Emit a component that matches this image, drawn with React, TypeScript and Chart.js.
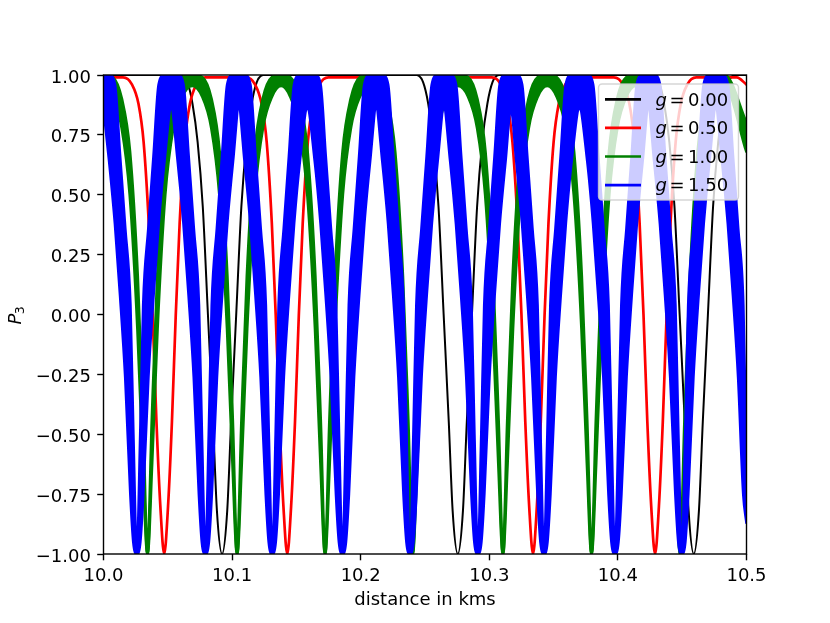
import React, { useEffect, useRef } from 'react';
import { Chart, registerables } from 'chart.js';

Chart.register(...registerables);

// ---------- tick values & labels ----------
const xTickValues = [10.0, 10.1, 10.2, 10.3, 10.4, 10.5];
const xTickLabels = ['10.0', '10.1', '10.2', '10.3', '10.4', '10.5'];
const yTickValues = [-1, -0.75, -0.5, -0.25, 0, 0.25, 0.5, 0.75, 1];
const yTickLabels = ['−1.00', '−0.75', '−0.50', '−0.25', '0.00', '0.25', '0.50', '0.75', '1.00'];
const xTitle = 'distance in kms';
const seriesLabels = ['0.00', '0.50', '1.00', '1.50'];
const seriesColors = ['#000000', '#ff0000', '#008000', '#0000ff'];

// ---------- g = 0.00 (black) ----------
const blackX = [
  10.0, 10.06,
  10.0652, 10.0692, 10.0732, 10.0772, 10.0812, 10.0852, 10.0882, 10.0922, 10.0962, 10.0992, 10.1032, 10.1072, 10.1112, 10.1152, 10.1192, 10.1242,
  10.2435, 10.2485, 10.2525, 10.2565, 10.2605, 10.2645, 10.2685, 10.2715, 10.2755, 10.2795, 10.2825, 10.2865, 10.2905, 10.2945, 10.2985, 10.3025, 10.3075,
  10.427, 10.432, 10.436, 10.44, 10.444, 10.448, 10.452, 10.455, 10.459, 10.463, 10.466, 10.47, 10.474, 10.478, 10.482, 10.486, 10.491,
  10.5,
];
const blackY = [
  1, 1,
  0.97, 0.88, 0.72, 0.45, 0, -0.45, -0.82, -1, -0.82, -0.45, 0, 0.45, 0.72, 0.88, 0.97, 1,
  1, 0.97, 0.88, 0.72, 0.45, 0, -0.45, -0.82, -1, -0.82, -0.45, 0, 0.45, 0.72, 0.88, 0.97, 1,
  1, 0.97, 0.88, 0.72, 0.45, 0, -0.45, -0.82, -1, -0.82, -0.45, 0, 0.45, 0.72, 0.88, 0.97, 1,
  1,
];

// ---------- g = 0.50 (red) ----------
const redX = [
  10.0,
  10.0152, 10.0222, 10.0272, 10.0312, 10.0352, 10.0382, 10.0412, 10.0442, 10.0472, 10.0502, 10.0532, 10.0562, 10.0592, 10.0632, 10.0672, 10.0722, 10.0792,
  10.1109, 10.1179, 10.1229, 10.1269, 10.1309, 10.1339, 10.1369, 10.1399, 10.1429, 10.1459, 10.1489, 10.1519, 10.1549, 10.1589, 10.1629, 10.1679, 10.1749,
  10.2063, 10.2133, 10.2183, 10.2223, 10.2263, 10.2293, 10.2323, 10.2353, 10.2383, 10.2413, 10.2443, 10.2473, 10.2503, 10.2543, 10.2583, 10.2633, 10.2703,
  10.302, 10.309, 10.314, 10.318, 10.322, 10.325, 10.328, 10.331, 10.334, 10.337, 10.34, 10.343, 10.346, 10.35, 10.354, 10.359, 10.366,
  10.3969, 10.4039, 10.4089, 10.4129, 10.4169, 10.4199, 10.4229, 10.4259, 10.4289, 10.4319, 10.4349, 10.4379, 10.4409, 10.4449, 10.4489, 10.4539, 10.4609,
  10.4924, 10.5,
];
const redY = [
  0.99,
  0.99, 0.96, 0.88, 0.72, 0.38, 0, -0.45, -0.8, -1, -0.8, -0.45, 0, 0.38, 0.72, 0.88, 0.96, 0.99,
  0.99, 0.96, 0.88, 0.72, 0.38, 0, -0.45, -0.8, -1, -0.8, -0.45, 0, 0.38, 0.72, 0.88, 0.96, 0.99,
  0.99, 0.96, 0.88, 0.72, 0.38, 0, -0.45, -0.8, -1, -0.8, -0.45, 0, 0.38, 0.72, 0.88, 0.96, 0.99,
  0.99, 0.96, 0.88, 0.72, 0.38, 0, -0.45, -0.8, -1, -0.8, -0.45, 0, 0.38, 0.72, 0.88, 0.96, 0.99,
  0.99, 0.96, 0.88, 0.72, 0.38, 0, -0.45, -0.8, -1, -0.8, -0.45, 0, 0.38, 0.72, 0.88, 0.96, 0.99,
  0.99, 0.96,
];

// ---------- g = 1.00 (green): upper / lower edge of the fast-oscillation band ----------
const greenX = [
  10.0,
  10.0072, 10.0142, 10.0205, 10.0265, 10.0307, 10.0342, 10.0377, 10.0419, 10.0479, 10.0542, 10.0612, 10.069,
  10.0769, 10.0839, 10.0902, 10.0962, 10.1004, 10.1039, 10.1074, 10.1116, 10.1176, 10.1239, 10.1309, 10.1381,
  10.1453, 10.1523, 10.1586, 10.1646, 10.1688, 10.1723, 10.1758, 10.18, 10.186, 10.1923, 10.1993, 10.2064,
  10.2134, 10.2204, 10.2267, 10.2327, 10.2369, 10.2404, 10.2439, 10.2481, 10.2541, 10.2604, 10.2674, 10.2755,
  10.2836, 10.2906, 10.2969, 10.3029, 10.3071, 10.3106, 10.3141, 10.3183, 10.3243, 10.3306, 10.3376, 10.345,
  10.3525, 10.3595, 10.3658, 10.3718, 10.376, 10.3795, 10.383, 10.3872, 10.3932, 10.3995, 10.4065, 10.414,
  10.4214, 10.4284, 10.4347, 10.4407, 10.4449, 10.4484, 10.4519, 10.4561, 10.4621, 10.4684, 10.4754, 10.483,
  10.5,
];
const greenHi = [
  1.0,
  0.99, 0.9, 0.68, 0.16, -0.44, -1, -0.44, 0.16, 0.68, 0.9, 0.99, 1.0,
  0.99, 0.9, 0.68, 0.16, -0.44, -1, -0.44, 0.16, 0.68, 0.9, 0.99, 1.0,
  0.99, 0.9, 0.68, 0.16, -0.44, -1, -0.44, 0.16, 0.68, 0.9, 0.99, 1.0,
  0.99, 0.9, 0.68, 0.16, -0.44, -1, -0.44, 0.16, 0.68, 0.9, 0.99, 1.0,
  0.99, 0.9, 0.68, 0.16, -0.44, -1, -0.44, 0.16, 0.68, 0.9, 0.99, 1.0,
  0.99, 0.9, 0.68, 0.16, -0.44, -1, -0.44, 0.16, 0.68, 0.9, 0.99, 1.0,
  0.99, 0.9, 0.68, 0.16, -0.44, -1, -0.44, 0.16, 0.68, 0.9, 0.99, 1.0,
  0.8,
];
const greenLo = [
  0.955,
  0.91, 0.78, 0.5, -0.06, -0.62, -1, -0.62, -0.06, 0.5, 0.78, 0.91, 0.955,
  0.91, 0.78, 0.5, -0.06, -0.62, -1, -0.62, -0.06, 0.5, 0.78, 0.91, 0.955,
  0.91, 0.78, 0.5, -0.06, -0.62, -1, -0.62, -0.06, 0.5, 0.78, 0.91, 0.955,
  0.91, 0.78, 0.5, -0.06, -0.62, -1, -0.62, -0.06, 0.5, 0.78, 0.91, 0.955,
  0.91, 0.78, 0.5, -0.06, -0.62, -1, -0.62, -0.06, 0.5, 0.78, 0.91, 0.955,
  0.91, 0.78, 0.5, -0.06, -0.62, -1, -0.62, -0.06, 0.5, 0.78, 0.91, 0.955,
  0.91, 0.78, 0.5, -0.06, -0.62, -1, -0.62, -0.06, 0.5, 0.78, 0.91, 0.955,
  0.68,
];

// ---------- g = 1.50 (blue): upper / lower edge of the fast-oscillation band ----------
const blueX = [
  10.0,
  10.0044, 10.0089, 10.0129, 10.0169, 10.0209, 10.0232, 10.0259, 10.0286, 10.0309, 10.0349, 10.0389, 10.0429, 10.0474, 10.0526,
  10.0577, 10.0622, 10.0662, 10.0702, 10.0742, 10.0765, 10.0792, 10.0819, 10.0842, 10.0882, 10.0922, 10.0962, 10.1007, 10.1052,
  10.1097, 10.1142, 10.1182, 10.1222, 10.1262, 10.1285, 10.1312, 10.1339, 10.1362, 10.1402, 10.1442, 10.1482, 10.1527, 10.1585,
  10.1643, 10.1688, 10.1728, 10.1768, 10.1808, 10.1831, 10.1858, 10.1885, 10.1908, 10.1948, 10.1988, 10.2028, 10.2073, 10.212,
  10.2168, 10.2213, 10.2253, 10.2293, 10.2333, 10.2356, 10.2383, 10.241, 10.2433, 10.2473, 10.2513, 10.2553, 10.2598, 10.2647,
  10.2696, 10.2741, 10.2781, 10.2821, 10.2861, 10.2884, 10.2911, 10.2938, 10.2961, 10.3001, 10.3041, 10.3081, 10.3126, 10.3168,
  10.321, 10.3255, 10.3295, 10.3335, 10.3375, 10.3398, 10.3425, 10.3452, 10.3475, 10.3515, 10.3555, 10.3595, 10.364, 10.3701,
  10.3762, 10.3807, 10.3847, 10.3887, 10.3927, 10.395, 10.3977, 10.4004, 10.4027, 10.4067, 10.4107, 10.4147, 10.4192, 10.4237,
  10.4282, 10.4327, 10.4367, 10.4407, 10.4447, 10.447, 10.4497, 10.4524, 10.4547, 10.4587, 10.4627, 10.4667, 10.4712, 10.4761,
  10.481, 10.4855, 10.4895, 10.4935, 10.4975, 10.5,
];
const blueHi = [
  1.0,
  1.0, 0.96, 0.66, 0.36, 0.04, -0.5, -1, -0.5, 0.04, 0.36, 0.66, 0.96, 1.0, 1.0,
  1.0, 0.96, 0.66, 0.36, 0.04, -0.5, -1, -0.5, 0.04, 0.36, 0.66, 0.96, 1.0, 1.0,
  1.0, 0.96, 0.66, 0.36, 0.04, -0.5, -1, -0.5, 0.04, 0.36, 0.66, 0.96, 1.0, 1.0,
  1.0, 0.96, 0.66, 0.36, 0.04, -0.5, -1, -0.5, 0.04, 0.36, 0.66, 0.96, 1.0, 1.0,
  1.0, 0.96, 0.66, 0.36, 0.04, -0.5, -1, -0.5, 0.04, 0.36, 0.66, 0.96, 1.0, 1.0,
  1.0, 0.96, 0.66, 0.36, 0.04, -0.5, -1, -0.5, 0.04, 0.36, 0.66, 0.96, 1.0, 1.0,
  1.0, 0.96, 0.66, 0.36, 0.04, -0.5, -1, -0.5, 0.04, 0.36, 0.66, 0.96, 1.0, 1.0,
  1.0, 0.96, 0.66, 0.36, 0.04, -0.5, -1, -0.5, 0.04, 0.36, 0.66, 0.96, 1.0, 1.0,
  1.0, 0.96, 0.66, 0.36, 0.04, -0.5, -1, -0.5, 0.04, 0.36, 0.66, 0.96, 1.0, 1.0,
  1.0, 0.96, 0.66, 0.36, 0.04, -0.64,
];
const blueLo = [
  0.86,
  0.64, 0.38, 0.08, -0.26, -0.75, -0.95, -1, -0.95, -0.75, -0.26, 0.08, 0.38, 0.64, 0.86,
  0.64, 0.38, 0.08, -0.26, -0.75, -0.95, -1, -0.95, -0.75, -0.26, 0.08, 0.38, 0.64, 0.86,
  0.64, 0.38, 0.08, -0.26, -0.75, -0.95, -1, -0.95, -0.75, -0.26, 0.08, 0.38, 0.64, 0.86,
  0.64, 0.38, 0.08, -0.26, -0.75, -0.95, -1, -0.95, -0.75, -0.26, 0.08, 0.38, 0.64, 0.86,
  0.64, 0.38, 0.08, -0.26, -0.75, -0.95, -1, -0.95, -0.75, -0.26, 0.08, 0.38, 0.64, 0.86,
  0.64, 0.38, 0.08, -0.26, -0.75, -0.95, -1, -0.95, -0.75, -0.26, 0.08, 0.38, 0.64, 0.86,
  0.64, 0.38, 0.08, -0.26, -0.75, -0.95, -1, -0.95, -0.75, -0.26, 0.08, 0.38, 0.64, 0.86,
  0.64, 0.38, 0.08, -0.26, -0.75, -0.95, -1, -0.95, -0.75, -0.26, 0.08, 0.38, 0.64, 0.86,
  0.64, 0.38, 0.08, -0.26, -0.75, -0.95, -1, -0.95, -0.75, -0.26, 0.08, 0.38, 0.64, 0.86,
  0.64, 0.38, 0.08, -0.26, -0.75, -0.87,
];

const FONT = '"DejaVu Sans", "Liberation Sans", sans-serif';

function pts(xs: number[], ys: number[]) {
  return xs.map((x, i) => ({ x, y: ys[i] }));
}

const overlayPlugin = {
  id: 'overlay',
  afterDraw(chart: any) {
    const ctx = chart.ctx as CanvasRenderingContext2D;
    const { left, right, top, bottom } = chart.chartArea;
    const xs = chart.scales.x;
    const ys = chart.scales.y;
    ctx.save();

    // axes frame (spines)
    ctx.strokeStyle = '#000';
    ctx.lineWidth = 1.4;
    ctx.strokeRect(left, top, right - left, bottom - top);

    // tick labels
    ctx.fillStyle = '#000';
    ctx.font = `18px ${FONT}`;
    ctx.textBaseline = 'alphabetic';
    ctx.textAlign = 'center';
    xTickValues.forEach((v, i) => {
      ctx.fillText(xTickLabels[i], xs.getPixelForValue(v), bottom + 26.7);
    });
    ctx.textAlign = 'right';
    yTickValues.forEach((v, i) => {
      ctx.fillText(yTickLabels[i], left - 12.6, ys.getPixelForValue(v) + 7.5);
    });

    // x title
    ctx.textAlign = 'center';
    ctx.fillText(xTitle, (left + right) / 2, bottom + 51);

    // y title: italic P with subscript 3
    ctx.save();
    ctx.translate(20.5, (top + bottom) / 2 + 10);
    ctx.rotate(-Math.PI / 2);
    ctx.textAlign = 'left';
    ctx.font = `italic 18px ${FONT}`;
    ctx.fillText('P', 0, 0);
    const pw = ctx.measureText('P').width;
    ctx.font = `12.6px ${FONT}`;
    ctx.fillText('3', pw - 0.5, 3.5);
    ctx.restore();

    // legend
    const bx = 598.5, by = 84, bw = 140, bh = 116, r = 3.6;
    ctx.beginPath();
    ctx.moveTo(bx + r, by);
    ctx.lineTo(bx + bw - r, by);
    ctx.arcTo(bx + bw, by, bx + bw, by + r, r);
    ctx.lineTo(bx + bw, by + bh - r);
    ctx.arcTo(bx + bw, by + bh, bx + bw - r, by + bh, r);
    ctx.lineTo(bx + r, by + bh);
    ctx.arcTo(bx, by + bh, bx, by + bh - r, r);
    ctx.lineTo(bx, by + r);
    ctx.arcTo(bx, by, bx + r, by, r);
    ctx.closePath();
    ctx.fillStyle = 'rgba(255,255,255,0.8)';
    ctx.fill();
    ctx.strokeStyle = 'rgba(204,204,204,0.8)';
    ctx.lineWidth = 1.4;
    ctx.stroke();

    seriesLabels.forEach((lab, i) => {
      const ry = 99.3 + i * 28.6;
      ctx.beginPath();
      ctx.moveTo(605, ry);
      ctx.lineTo(641, ry);
      ctx.strokeStyle = seriesColors[i];
      ctx.lineWidth = 2.7;
      ctx.stroke();
      ctx.fillStyle = '#000';
      ctx.textAlign = 'left';
      ctx.font = `italic 18px ${FONT}`;
      ctx.fillText('g', 655.5, ry + 6.2);
      ctx.font = `18px ${FONT}`;
      ctx.fillText('=', 669.5, ry + 6.2);
      ctx.fillText(lab, 688, ry + 6.2);
    });

    ctx.restore();
  },
};

export default function App() {
  const canvasRef = useRef<HTMLCanvasElement | null>(null);

  useEffect(() => {
    document.body.style.margin = '0';
    const canvas = canvasRef.current;
    if (!canvas) return;
    const common = {
      pointRadius: 0,
      pointHoverRadius: 0,
      cubicInterpolationMode: 'monotone' as const,
      clip: 0,
      borderJoinStyle: 'round' as const,
      borderCapStyle: 'round' as const,
    };
    const chart = new Chart(canvas, {
      type: 'line',
      data: {
        datasets: [
          { ...common, label: 'g = 0.00', data: pts(blackX, blackY), borderColor: seriesColors[0], borderWidth: 2, fill: false, order: 6 },
          { ...common, label: 'g = 0.50', data: pts(redX, redY), borderColor: seriesColors[1], borderWidth: 2.7, fill: false, order: 5 },
          { ...common, label: 'g = 1.00 lo', data: pts(greenX, greenLo), borderColor: seriesColors[2], borderWidth: 3, fill: false, order: 4 },
          { ...common, label: 'g = 1.00', data: pts(greenX, greenHi), borderColor: seriesColors[2], backgroundColor: seriesColors[2], borderWidth: 3, fill: '-1', order: 3 },
          { ...common, label: 'g = 1.50 lo', data: pts(blueX, blueLo), borderColor: seriesColors[3], borderWidth: 2.7, fill: false, order: 2 },
          { ...common, label: 'g = 1.50', data: pts(blueX, blueHi), borderColor: seriesColors[3], backgroundColor: seriesColors[3], borderWidth: 2.7, fill: '-1', order: 1 },
        ],
      },
      options: {
        animation: false,
        responsive: false,
        events: [],
        layout: { padding: { top: 75, right: 83.5, left: 0, bottom: 0 } },
        plugins: { legend: { display: false }, tooltip: { enabled: false } },
        scales: {
          x: {
            type: 'linear',
            min: 10.0,
            max: 10.5,
            afterBuildTicks: (s: any) => { s.ticks = xTickValues.map((v) => ({ value: v })); },
            afterFit: (s: any) => { s.height = 69; },
            ticks: { display: false },
            grid: { display: true, drawOnChartArea: false, drawTicks: true, tickLength: 6.3, tickWidth: 1.4, tickColor: '#000', color: '#000' },
            border: { display: false },
          },
          y: {
            type: 'linear',
            min: -1,
            max: 1,
            afterBuildTicks: (s: any) => { s.ticks = yTickValues.map((v) => ({ value: v })); },
            afterFit: (s: any) => { s.width = 103.5; },
            ticks: { display: false },
            grid: { display: true, drawOnChartArea: false, drawTicks: true, tickLength: 6.3, tickWidth: 1.4, tickColor: '#000', color: '#000' },
            border: { display: false },
          },
        },
      },
      plugins: [overlayPlugin],
    });
    return () => chart.destroy();
  }, []);

  return (
    <div style={{ position: 'fixed', left: 0, top: 0, width: 830, height: 623, background: '#ffffff' }}>
      <canvas ref={canvasRef} width={830} height={623} style={{ width: 830, height: 623, display: 'block' }} />
    </div>
  );
}
